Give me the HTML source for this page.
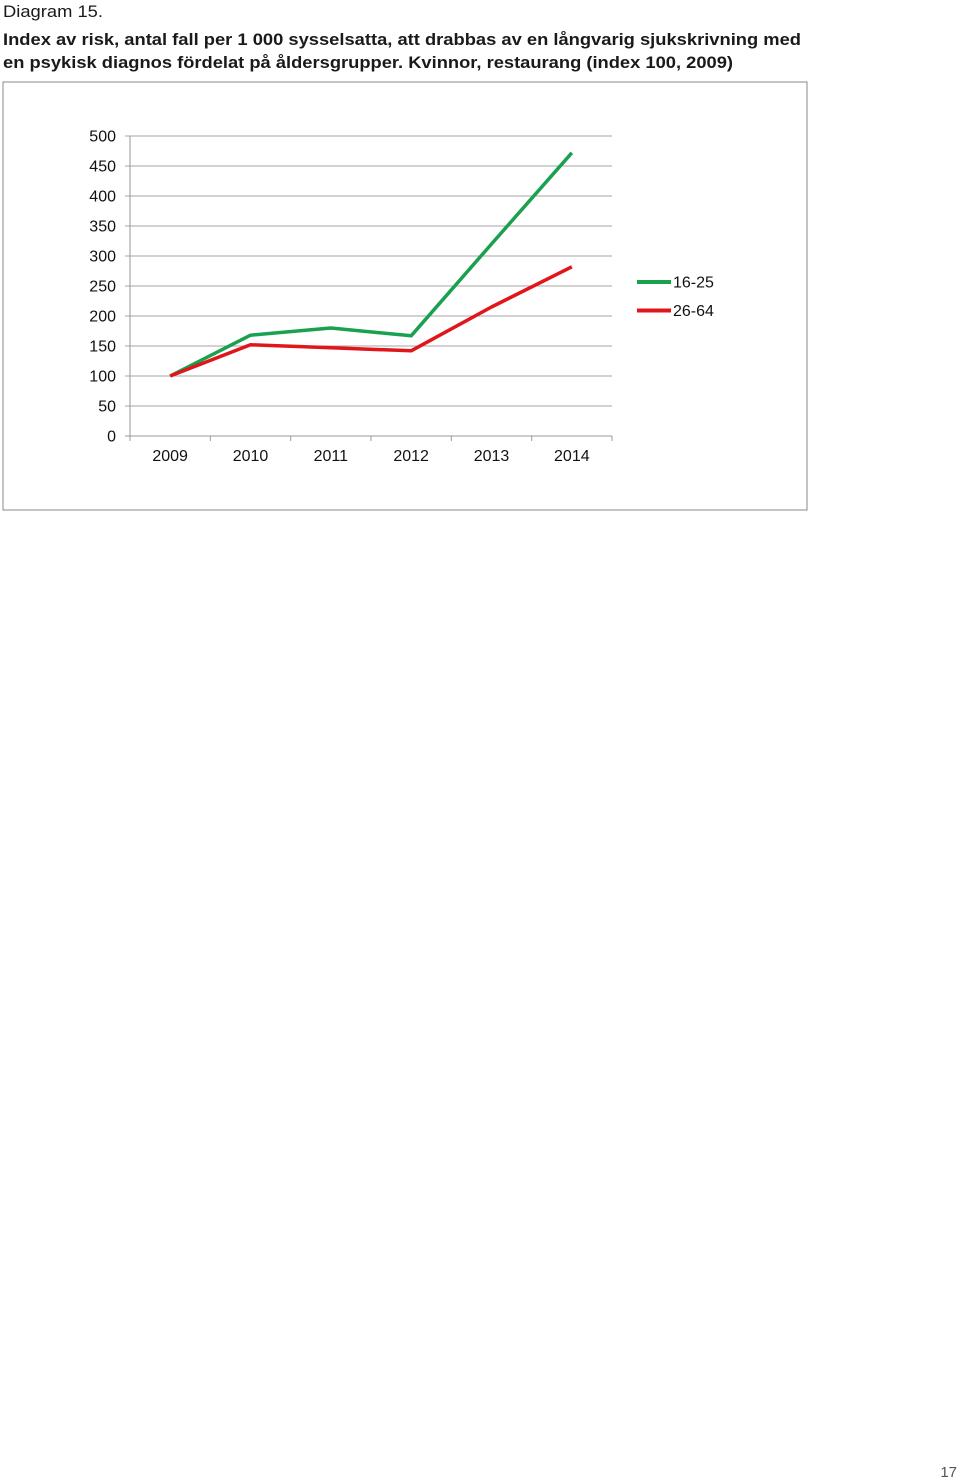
<!DOCTYPE html>
<html><head><meta charset="utf-8"><style>
html,body{margin:0;padding:0;background:#fff;width:960px;height:1480px;overflow:hidden}
svg{display:block;font-family:"Liberation Sans",sans-serif}
</style></head><body>
<svg id="page" width="960" height="1480" viewBox="0 0 960 1480">
<text x="3" y="17" font-size="17" fill="#1a1a1a" textLength="100" lengthAdjust="spacingAndGlyphs">Diagram 15.</text>
<text x="3" y="45" font-size="17" font-weight="bold" fill="#1a1a1a" textLength="798" lengthAdjust="spacingAndGlyphs">Index av risk, antal fall per 1 000 sysselsatta, att drabbas av en långvarig sjukskrivning med</text>
<text x="3" y="68" font-size="17" font-weight="bold" fill="#1a1a1a" textLength="730" lengthAdjust="spacingAndGlyphs">en psykisk diagnos fördelat på åldersgrupper. Kvinnor, restaurang (index 100, 2009)</text>
<rect x="3" y="82" width="804" height="428" fill="#fff" stroke="#888" stroke-width="1"/>
<g id="chart"></g>
<text x="957" y="1477" font-size="15" fill="#555" text-anchor="end">17</text>
</svg>
<script>
const categories = ["2009","2010","2011","2012","2013","2014"];
const series1625 = [100,168,180,167,320,472];
const series2664 = [100,152,147,142,215,282];
const yTicks = [0,50,100,150,200,250,300,350,400,450,500];
const seriesNames = ["16-25","26-64"];
const seriesColors = ["#1aa14f","#e0161b"];

const NS="http://www.w3.org/2000/svg";
const g=document.getElementById('chart');
const x0=130,x1=612,y0=436,y1=136,yMax=500;
const bw=(x1-x0)/categories.length;
const xS=i=>x0+bw*(i+0.5);
const yS=v=>y0-(v/yMax)*(y0-y1);
function mk(t,a){const e=document.createElementNS(NS,t);for(const k in a)e.setAttribute(k,a[k]);g.appendChild(e);return e;}
yTicks.forEach(v=>{
  const l=mk('line',{x1:x0-5,x2:x1,y1:yS(v),y2:yS(v),stroke:v===0?'#999':'#a6a6a6','stroke-width':1});
  
  
  const t=mk('text',{x:116,y:yS(v)+5.5,'font-size':16,'text-anchor':'end',fill:'#111'});
  t.textContent=v;
  
  
});
const ax=mk('line',{x1:x0,x2:x0,y1:y1,y2:y0,stroke:'#999'});


for(let i=0;i<=categories.length;i++){
  const tk=mk('line',{x1:x0+bw*i,x2:x0+bw*i,y1:y0,y2:y0+5,stroke:'#999'});
  
  
}
categories.forEach((c,i)=>{
  const t=mk('text',{x:xS(i),y:461,'font-size':16,'text-anchor':'middle',fill:'#111'});
  t.textContent=c;
  
  
});
[series1625,series2664].forEach((s,k)=>{
  const p=mk('polyline',{points:s.map((v,i)=>xS(i)+','+yS(v)).join(' '),fill:'none',stroke:seriesColors[k],'stroke-width':3.5,'stroke-linejoin':'round'});
  
  
  const ly=282+k*28.5;
  const l=mk('line',{x1:637,x2:671,y1:ly,y2:ly,stroke:seriesColors[k],'stroke-width':4});
  
  
  const t=mk('text',{x:673,y:ly+5.5,'font-size':16,fill:'#111'});
  t.textContent=seriesNames[k];
  
  
});
</script>
</body></html>
